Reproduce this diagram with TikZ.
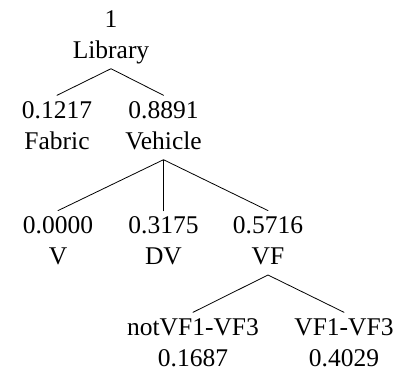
\documentclass[tikz,border=0pt]{standalone}
\usepackage{fontspec}
\setmainfont{Liberation Serif}
\begin{document}
\begin{tikzpicture}[x=1pt, y=-1pt, line join=round, line cap=round, font=\fontsize{25.5}{31}\selectfont]
				\tikzset{every node/.style={align=center, inner sep=1pt, anchor=north}}
				\useasboundingbox (0,0) rectangle (399,370);
				%Goc
				\node (lib) at (111,4.3) {1\strut\\Library\strut};
				%Tang 1
				\node (fabric) at (57,95.3) {0.1217\strut\\Fabric\strut};
				\node (vehicle) at (163.5,95.3) {0.8891\strut\\Vehicle\strut};
				%Tang 2
				\node (v) at (58,210.6) {0.0000\strut\\V\strut};
				\node (dv) at (163.5,210.6) {0.3175\strut\\DV\strut};
				\node (vf) at (268,210.6) {0.5716\strut\\VF\strut};
				%Tang 3
				\node (notvf) at (193,312.3) {notVF1-VF3\strut\\0.1687\strut};
				\node (vfone) at (344,312.3) {VF1-VF3\strut\\0.4029\strut};
				\draw[line width=0.8pt] (lib.south)--(fabric.north) (lib.south)--(vehicle.north);
				\draw[line width=0.8pt] (vehicle.south)--(v.north) (vehicle.south)--(dv.north) (vehicle.south)--(vf.north);
				\draw[line width=0.8pt] (vf.south)--(notvf.north) (vf.south)--(vfone.north);
			\end{tikzpicture}
\end{document}
